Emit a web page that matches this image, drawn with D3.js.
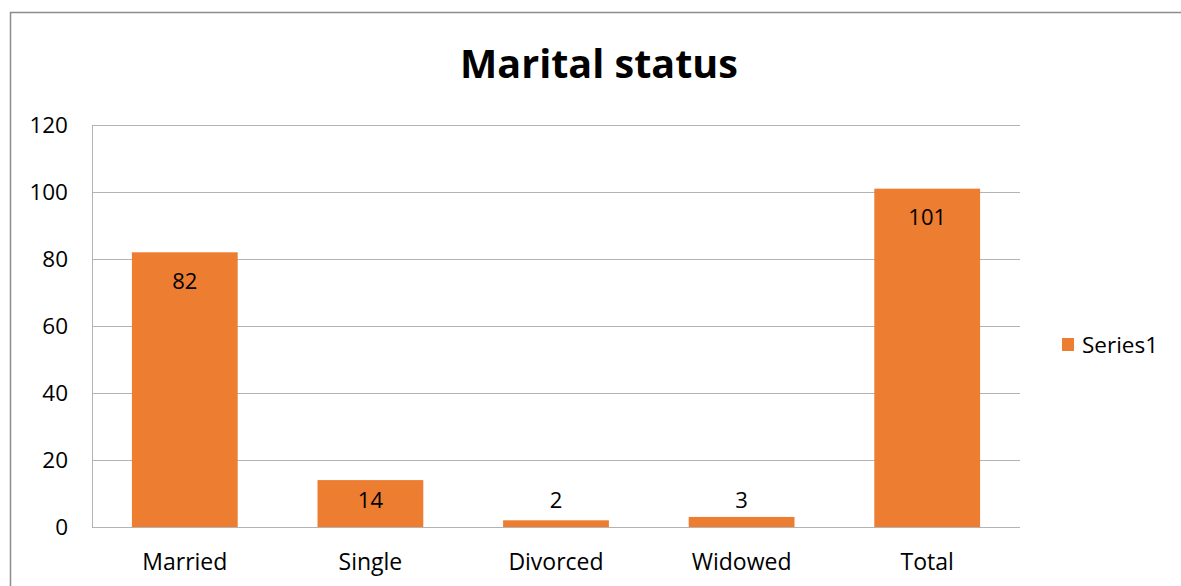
<!DOCTYPE html>
<html><head><meta charset="utf-8">
<script src="https://cdn.jsdelivr.net/npm/d3@7"></script>
<style>body{margin:0;background:#fff}svg{display:block}</style>
</head><body><svg id="c" width="1181" height="586"></svg>
<script>
const categories = ["Married","Single","Divorced","Widowed","Total"];
const values = [82,14,2,3,101];
const yTicks = [0,20,40,60,80,100,120];
const seriesName = "Series1";
const title = "Marital status";

const svg = d3.select("#c");
const font = "'Open Sans', 'Noto Sans', sans-serif";
const m = {l:92, t:125, r:1020, b:527};
const x = d3.scaleBand().domain(categories).range([m.l,m.r]).paddingInner(0.43).paddingOuter(0.215);
const y = d3.scaleLinear().domain([0,120]).range([m.b,m.t]);
const color = "#ED7D31";

// outer border
svg.append("path").attr("d","M10.5,586 L10.5,12.5 L1181,12.5").attr("fill","none").attr("stroke","#8c8c8c").attr("stroke-width",1.5);

// gridlines
svg.append("g").selectAll("line").data(yTicks).join("line")
  .attr("x1",m.l).attr("x2",m.r).attr("y1",d=>Math.round(y(d))+0.5).attr("y2",d=>Math.round(y(d))+0.5)
  .attr("stroke","#b3b3b3").attr("stroke-width",1);
svg.append("line").attr("x1",m.l+0.5).attr("x2",m.l+0.5).attr("y1",m.t).attr("y2",m.b)
  .attr("stroke","#b3b3b3");

// y labels
svg.append("g").selectAll("text").data(yTicks).join("text")
  .attr("x",68).attr("y",d=>y(d)).attr("dy","0.35em").attr("text-anchor","end")
  .attr("font-family",font).attr("font-size",22.5).attr("fill","#000").text(d=>d);

// bars
svg.append("g").selectAll("rect").data(values).join("rect")
  .attr("x",(d,i)=>x(categories[i])).attr("width",x.bandwidth())
  .attr("y",d=>y(d)).attr("height",d=>y(0)-y(d)).attr("fill",color);

// value labels
svg.append("g").selectAll("text").data(values).join("text")
  .attr("x",(d,i)=>x(categories[i])+x.bandwidth()/2)
  .attr("y",d=> Math.min(y(d)+29, y(0)-27))
  .attr("dy","0.35em")
  .attr("text-anchor","middle").attr("font-family",font).attr("font-size",22).attr("fill","#000").text(d=>d);

// x labels
svg.append("g").selectAll("text").data(categories).join("text")
  .attr("x",d=>x(d)+x.bandwidth()/2).attr("y",570).attr("text-anchor","middle")
  .attr("font-family",font).attr("font-size",23).attr("fill","#000").text(d=>d);

// title
svg.append("text").attr("x",599).attr("y",78).attr("text-anchor","middle")
  .attr("font-family",font).attr("font-weight","bold").attr("font-size",39.5).attr("fill","#000").text(title);

// legend
svg.append("rect").attr("x",1062).attr("y",338).attr("width",12).attr("height",13).attr("fill",color);
svg.append("text").attr("x",1082).attr("y",345).attr("dy","0.35em").attr("font-family",font).attr("font-size",22.5).attr("fill","#000").text(seriesName);
</script></body></html>
